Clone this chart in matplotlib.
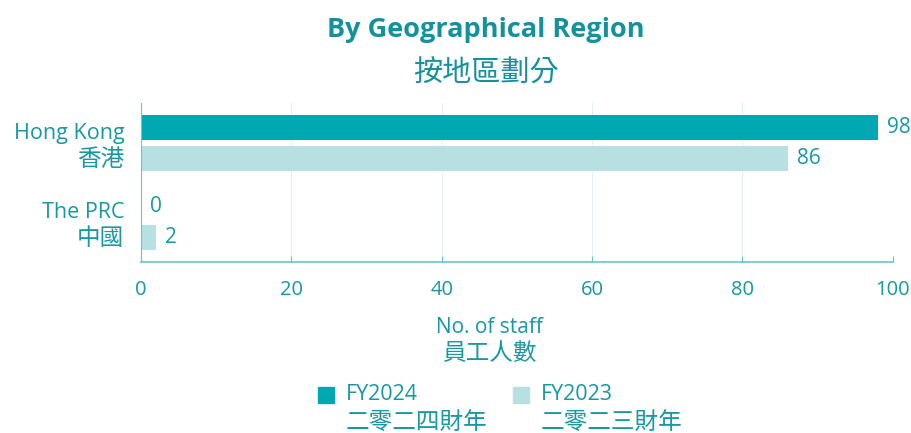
import matplotlib.pyplot as plt
import numpy as np

# data
regions_en = ["Hong Kong", "The PRC"]
regions_zh = ["香港", "中國"]
fy2024 = [98, 0]
fy2023 = [86, 2]
series_en = ["FY2024", "FY2023"]
series_zh = ["二零二四財年", "二零二三財年"]
xticks = [0, 20, 40, 60, 80, 100]

C24 = "#00A9B1"
C23 = "#B7E0E2"
TXT = "#1798A2"
LAT = ["Open Sans", "Noto Sans CJK TC"]
CJK = ["Noto Sans CJK TC", "DejaVu Sans"]

fig = plt.figure(figsize=(9.12, 4.33), dpi=100)
ax = fig.add_axes([0.1546, 0.395, 0.979 - 0.1546, 0.367])

y = np.array([1, 0])
off = 0.196
h = 0.316
ax.barh(y + off, fy2024, height=h, color=C24)
ax.barh(y - off, fy2023, height=h, color=C23)

for yy, v in zip(y + off, fy2024):
    ax.text(v + 1.2, yy, str(v), va="center", ha="left", fontsize=15,
            color=TXT, family=LAT)
for yy, v in zip(y - off, fy2023):
    ax.text(v + 1.2, yy, str(v), va="center", ha="left", fontsize=15,
            color=TXT, family=LAT)

ax.set_xlim(0, 100)
ax.set_ylim(-0.51, 1.5)
ax.set_xticks(xticks)
ax.set_xticklabels([str(t) for t in xticks], fontsize=14.5, color=TXT, family=LAT)
ax.tick_params(axis="x", length=4, color="#6CC3C8", pad=13, direction="in")
ax.set_yticks([])
ax.grid(True, axis="x", color="#E3F1F2", linewidth=0.8)
ax.set_axisbelow(True)
for s in ["top", "right"]:
    ax.spines[s].set_visible(False)
ax.spines["left"].set_color("#6CC3C8")
ax.spines["bottom"].set_color("#6CC3C8")
ax.spines["bottom"].set_linewidth(1.2)

# category labels
trans = ax.get_yaxis_transform()
for yy, en, zh in zip(y, regions_en, regions_zh):
    ax.text(-0.022, yy + 0.12, en, transform=trans, ha="right", va="center",
            fontsize=15.5, color=TXT, family=LAT)
    ax.text(-0.022, yy - 0.21, zh, transform=trans, ha="right", va="center",
            fontsize=17, color=TXT, family=CJK)

# title
fig.text(0.533, 0.93, "By Geographical Region", ha="center", va="center",
         fontsize=19.5, fontweight="bold", color="#13929B", family=LAT)
fig.text(0.533, 0.83, "按地區劃分", ha="center", va="center",
         fontsize=21, color="#13929B", family=CJK)

# x label
fig.text(0.537, 0.243, "No. of staff", ha="center", va="center",
         fontsize=15, color=TXT, family=LAT)
fig.text(0.537, 0.183, "員工人數", ha="center", va="center",
         fontsize=17, color=TXT, family=CJK)

# legend
for x0, col, en, zh in [(318, C24, series_en[0], series_zh[0]),
                        (513, C23, series_en[1], series_zh[1])]:
    fig.patches.append(plt.Rectangle((x0 / 912, 1 - 403 / 433), 16 / 912, 16 / 433,
                                     transform=fig.transFigure, color=col))
    fig.text((x0 + 28) / 912, 1 - 395 / 433, en, ha="left", va="center",
             fontsize=15.5, color=TXT, family=LAT)
    fig.text((x0 + 28) / 912, 1 - 422 / 433, zh, ha="left", va="center",
             fontsize=17, color=TXT, family=CJK)

fig.savefig("out.png", dpi=100, facecolor="white")
